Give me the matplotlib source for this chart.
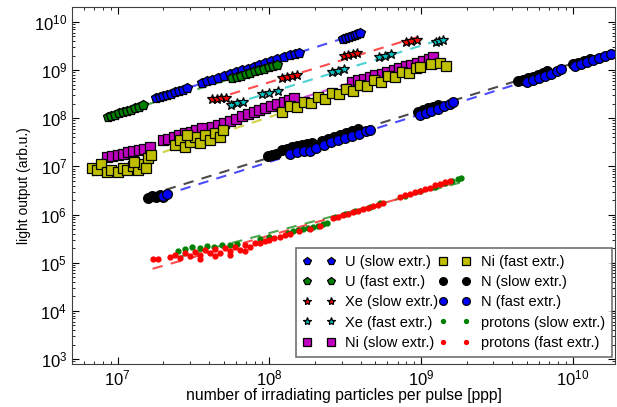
import numpy as np
import matplotlib
matplotlib.use('Agg')
import matplotlib.pyplot as plt
from matplotlib.ticker import NullFormatter

plt.rcParams['font.family'] = ['Liberation Sans', 'DejaVu Sans']
plt.rcParams['mathtext.default'] = 'regular'

# U, slow extraction
u_slow_x = [1.8e7, 1.9e7, 2.0e7, 2.1e7, 2.25e7, 2.4e7, 2.55e7, 2.7e7, 2.85e7,
            3.6e7, 3.9e7, 4.2e7, 4.6e7, 5.0e7, 5.5e7, 6.0e7, 6.6e7, 7.2e7, 7.9e7,
            8.6e7, 9.4e7, 1.03e8, 1.13e8, 1.24e8, 1.36e8, 1.48e8, 1.58e8,
            3.04e8, 3.2e8, 3.35e8, 3.5e8, 3.65e8, 3.8e8, 3.94e8]
u_slow_y = [2.6e8, 2.75e8, 2.9e8, 3.05e8, 3.25e8, 3.5e8, 3.7e8, 3.95e8, 4.2e8,
            5.4e8, 5.85e8, 6.3e8, 6.9e8, 7.5e8, 8.25e8, 9.0e8, 9.9e8, 1.08e9, 1.18e9,
            1.29e9, 1.41e9, 1.54e9, 1.69e9, 1.86e9, 2.04e9, 2.2e9, 2.3e9,
            4.4e9, 4.65e9, 4.9e9, 5.15e9, 5.4e9, 5.65e9, 5.9e9]

# U, fast extraction
u_fast_x = [8.6e6, 9.1e6, 9.6e6, 1.02e7, 1.08e7, 1.15e7, 1.22e7, 1.3e7, 1.38e7, 1.46e7,
            5.7e7, 6.1e7, 6.5e7, 7.0e7, 7.5e7, 8.0e7, 8.6e7, 9.2e7, 9.9e7, 1.05e8, 1.12e8]
u_fast_y = [1.05e8, 1.12e8, 1.18e8, 1.26e8, 1.34e8, 1.43e8, 1.52e8, 1.63e8, 1.75e8, 1.87e8,
            6.8e8, 7.25e8, 7.7e8, 8.25e8, 8.8e8, 9.4e8, 1.0e9, 1.07e9, 1.15e9, 1.21e9, 1.27e9]

# Xe
xe_slow_x = [4.2e7, 4.5e7, 4.8e7, 5.2e7, 1.22e8, 1.3e8, 1.4e8, 1.51e8,
             3.1e8, 3.3e8, 3.55e8, 3.8e8, 8.0e8, 8.6e8, 9.4e8]
xe_slow_y = [2.5e8, 2.57e8, 2.63e8, 2.7e8, 6.8e8, 7.1e8, 7.5e8, 7.9e8,
             1.96e9, 2.05e9, 2.15e9, 2.26e9, 3.8e9, 3.95e9, 4.2e9]
xe_fast_x = [5.6e7, 6.1e7, 6.7e7, 9.0e7, 1.0e8, 1.14e8, 2.6e8, 2.85e8, 3.1e8,
             5.3e8, 5.8e8, 6.3e8, 1.25e9, 1.32e9, 1.39e9]
xe_fast_y = [1.9e8, 2.05e8, 2.2e8, 3.16e8, 3.4e8, 3.65e8, 9.1e8, 9.8e8, 1.05e9,
             1.87e9, 2.0e9, 2.15e9, 3.85e9, 4.0e9, 4.15e9]

# Ni
ni_slow_x = [8.5e6, 9.2e6, 1.0e7, 1.08e7, 1.17e7, 1.27e7, 1.38e7, 1.5e7, 1.63e7,
             1.98e7, 2.15e7, 2.35e7, 2.55e7, 2.8e7, 3.05e7, 3.3e7, 3.6e7,
             4.2e7, 4.6e7, 5.0e7, 5.5e7, 6.0e7, 6.6e7, 7.2e7, 7.9e7, 8.6e7, 9.4e7,
             1.03e8, 1.13e8, 1.24e8, 1.35e8, 1.45e8,
             3.5e8, 3.85e8, 4.2e8, 4.6e8, 5.0e8, 5.5e8, 6.0e8, 6.6e8, 7.2e8, 7.9e8,
             8.6e8, 9.4e8, 1.03e9, 1.12e9, 1.19e9]
ni_slow_y = [1.55e7, 1.65e7, 1.75e7, 1.85e7, 1.95e7, 2.05e7, 2.2e7, 2.35e7, 2.5e7,
             3.5e7, 3.8e7, 4.1e7, 4.5e7, 4.9e7, 5.3e7, 5.75e7, 6.2e7,
             6.5e7, 7.2e7, 8.0e7, 8.9e7, 9.8e7, 1.09e8, 1.2e8, 1.33e8, 1.46e8, 1.6e8,
             1.76e8, 1.95e8, 2.15e8, 2.4e8, 2.6e8,
             5.6e8, 6.1e8, 6.6e8, 7.2e8, 7.8e8, 8.5e8, 9.2e8, 1.0e9, 1.09e9, 1.19e9,
             1.3e9, 1.42e9, 1.55e9, 1.7e9, 1.87e9]
ni_fast_x = [6.74e6, 7.3e6, 7.8e6, 8.5e6, 9.1e6, 1.0e7, 1.08e7, 1.16e7, 1.26e7, 1.36e7,
             1.46e7, 1.58e7, 1.65e7, 1.53e7, 1.29e7,
             2.38e7, 2.56e7, 2.77e7, 2.98e7, 3.22e7, 3.47e7, 3.75e7, 4.04e7, 4.36e7,
             4.7e7, 4.92e7, 2.85e7,
             1.22e8, 1.36e8, 1.51e8, 1.68e8, 1.87e8, 2.08e8, 2.32e8, 2.58e8, 2.86e8,
             3.18e8, 3.54e8, 3.94e8, 4.38e8, 4.87e8, 5.42e8, 6.03e8, 6.7e8, 7.45e8,
             8.28e8, 9.21e8, 9.79e8,
             1.17e9, 1.33e9, 1.45e9]
ni_fast_y = [9.5e6, 8.3e6, 1.15e7, 7.5e6, 8.3e6, 7.5e6, 9.1e6, 8.3e6, 1.0e7, 8.3e6,
             1.15e7, 1.47e7, 1.7e7, 9.5e6, 1.21e7,
             2.74e7, 3.48e7, 2.49e7, 3.16e7, 4.02e7, 3.01e7, 4.43e7, 3.48e7, 4.87e7,
             4.02e7, 5.62e7, 4.43e7,
             1.33e8, 1.78e8, 1.69e8, 2.15e8, 2.05e8, 2.74e8, 2.49e8, 3.32e8, 3.16e8,
             4.02e8, 3.65e8, 4.87e8, 4.64e8, 6.19e8, 5.62e8, 7.5e8, 7.15e8, 9.09e8,
             8.66e8, 1.1e9, 1.15e9,
             1.33e9, 1.4e9, 1.21e9]

# N
n_slow_x = [1.58e7, 1.68e7, 1.78e7, 1.89e7, 1.98e7,
            9.75e7, 1.04e8, 1.1e8,
            1.21e8, 1.3e8, 1.4e8, 1.51e8, 1.63e8, 1.76e8, 1.9e8,
            2.21e8, 2.42e8, 2.65e8, 2.91e8, 3.18e8, 3.49e8, 3.82e8,
            9.5e8, 1.03e9, 1.11e9, 1.19e9, 1.29e9,
            4.33e9, 4.68e9, 5.05e9, 5.45e9, 5.88e9, 6.34e9, 6.73e9,
            9.97e9, 1.08e10, 1.18e10, 1.29e10]
n_slow_y = [2.26e6, 2.49e6, 2.37e6, 2.61e6, 2.37e6,
            1.62e7, 1.7e7, 1.78e7,
            2.15e7, 2.26e7, 2.49e7, 2.61e7, 2.74e7, 2.87e7, 3.01e7,
            3.32e7, 3.65e7, 4.02e7, 4.43e7, 4.87e7, 5.36e7, 5.9e7,
            1.33e8, 1.47e8, 1.62e8, 1.69e8, 1.87e8,
            5.9e8, 6.19e8, 6.81e8, 7.15e8, 7.87e8, 8.66e8, 9.53e8,
            1.33e9, 1.4e9, 1.54e9, 1.7e9]
n_fast_x = [1.98e7, 2.1e7,
            1.36e8, 1.51e8, 1.68e8, 1.84e8, 2.02e8,
            2.28e8, 2.54e8, 2.82e8, 3.13e8, 3.49e8, 3.88e8, 4.32e8, 4.58e8,
            9.8e8, 1.07e9, 1.17e9, 1.29e9, 1.41e9, 1.55e9, 1.62e9,
            4.97e9, 5.45e9, 5.96e9, 6.53e9, 7.15e9, 7.83e9, 8.32e9,
            1.03e10, 1.13e10, 1.24e10, 1.35e10, 1.48e10, 1.62e10, 1.78e10]
n_fast_y = [2.49e6, 2.74e6,
            1.78e7, 1.96e7, 2.05e7, 2.05e7, 2.37e7,
            2.74e7, 3.16e7, 3.48e7, 3.83e7, 4.22e7, 4.64e7, 5.36e7, 5.62e7,
            1.15e8, 1.27e8, 1.4e8, 1.54e8, 1.78e8, 1.96e8, 2.15e8,
            5.62e8, 6.19e8, 6.81e8, 7.5e8, 8.25e8, 9.53e8, 1.05e9,
            1.21e9, 1.33e9, 1.47e9, 1.62e9, 1.78e9, 1.96e9, 2.15e9]

# protons
p_slow_x = [2.49e7, 2.77e7, 3.08e7, 3.47e7, 3.86e7, 4.29e7, 4.85e7, 5.47e7, 6.08e7,
            8.63e7, 1.0e8, 1.32e8, 1.43e8, 1.54e8, 1.66e8, 1.79e8, 1.93e8, 2.08e8,
            2.25e8, 2.39e8, 2.69e8, 3.13e8, 3.65e8, 4.58e8, 5.33e8,
            7.8e8, 9.8e8, 1.23e9, 1.43e9, 1.59e9, 1.74e9, 1.82e9]
p_slow_y = [1.78e5, 1.96e5, 2.15e5, 2.05e5, 2.26e5, 2.15e5, 2.37e5, 2.37e5, 2.49e5,
            3.16e5, 3.48e5, 4.22e5, 4.64e5, 4.87e5, 5.11e5, 5.36e5, 5.62e5, 5.9e5,
            6.49e5, 6.81e5, 9.09e5, 1.05e6, 1.21e6, 1.47e6, 1.7e6,
            2.49e6, 3.16e6, 3.83e6, 4.43e6, 4.87e6, 5.36e6, 5.62e6]
p_fast_x = [1.7e7, 1.84e7, 2.2e7, 2.38e7, 2.56e7, 2.77e7, 2.98e7, 3.22e7, 3.47e7, 3.47e7,
            3.75e7, 4.04e7, 4.36e7, 4.36e7, 4.7e7, 5.07e7, 5.47e7, 5.47e7, 5.9e7, 6.37e7,
            6.87e7, 6.87e7, 7.41e7, 8.0e7, 8.63e7, 9.31e7, 1.0e8, 1.08e8, 1.17e8, 1.26e8,
            1.36e8, 1.58e8, 1.84e8, 2.15e8,
            2.61e8, 2.82e8, 3.04e8, 3.28e8, 3.54e8, 3.82e8, 4.12e8, 4.45e8, 4.8e8,
            5.17e8, 5.58e8,
            7.23e8, 7.8e8, 8.41e8, 9.08e8, 9.8e8, 1.06e9, 1.14e9, 1.23e9, 1.33e9,
            1.43e9, 1.55e9]
p_fast_y = [1.21e5, 1.21e5, 1.33e5, 1.47e5, 1.27e5, 1.62e5, 1.4e5, 1.7e5, 1.47e5, 1.21e5,
            1.87e5, 1.62e5, 1.96e5, 1.4e5, 1.62e5, 2.05e5, 1.78e5, 1.47e5, 2.15e5, 1.87e5,
            2.37e5, 1.78e5, 2.15e5, 2.61e5, 2.61e5, 2.87e5, 3.01e5, 3.32e5, 3.48e5, 3.83e5,
            4.02e5, 4.64e5, 5.11e5, 5.9e5,
            8.66e5, 9.09e5, 1.0e6, 1.05e6, 1.15e6, 1.21e6, 1.33e6, 1.4e6, 1.54e6,
            1.62e6, 1.7e6,
            2.37e6, 2.61e6, 2.74e6, 3.01e6, 3.16e6, 3.48e6, 3.65e6, 4.02e6, 4.22e6,
            4.64e6, 4.87e6]

x_ticks = [1e7, 1e8, 1e9, 1e10]
y_ticks = [1e3, 1e4, 1e5, 1e6, 1e7, 1e8, 1e9, 1e10]

series = [
    (u_slow_x, u_slow_y, 'b', 'p', 7, 'U (slow extr.)'),
    (u_fast_x, u_fast_y, 'g', 'p', 7, 'U (fast extr.)'),
    (xe_slow_x, xe_slow_y, 'r', '*', 7.5, 'Xe (slow extr.)'),
    (xe_fast_x, xe_fast_y, 'c', '*', 7.5, 'Xe (fast extr.)'),
    (ni_slow_x, ni_slow_y, 'm', 's', 6.5, 'Ni (slow extr.)'),
    (ni_fast_x, ni_fast_y, 'y', 's', 6.5, 'Ni (fast extr.)'),
    (n_slow_x, n_slow_y, 'k', 'o', 7, 'N (slow extr.)'),
    (n_fast_x, n_fast_y, 'b', 'o', 7, 'N (fast extr.)'),
    (p_slow_x, p_slow_y, 'g', '.', 7, 'protons (slow extr.)'),
    (p_fast_x, p_fast_y, 'r', '.', 7, 'protons (fast extr.)'),
]

fig = plt.figure(figsize=(6.17, 4.07), dpi=100)
ax = fig.add_axes([0.1167, 0.1057, 0.8801, 0.8759])

for x, y, col, mk, ms, lab in series:
    x = np.array(x)
    y = np.array(y)
    if mk == '.':
        ax.plot(x, y, ls='none', marker=mk, color=col, mec=col, ms=ms, label=lab)
    else:
        ax.plot(x, y, ls='none', marker=mk, color=col, mec='k', mew=0.9, ms=ms, label=lab)
    # power law fit
    k, d = np.polyfit(np.log10(x), np.log10(y), 1)
    xs = np.logspace(np.log10(x.min()), np.log10(x.max()), 50)
    ax.plot(xs, 10 ** (k * np.log10(xs) + d), ls='--', color=col, lw=1.5,
            alpha=0.7, dashes=(5, 4), zorder=1)

ax.set_xscale('log')
ax.set_yscale('log')
ax.set_xticks(x_ticks)
ax.set_yticks(y_ticks)
ax.xaxis.set_minor_formatter(NullFormatter())
ax.yaxis.set_minor_formatter(NullFormatter())
ax.set_xlim(5e6, 1.9e10)
ax.set_ylim(7.9e2, 2e10)

ax.tick_params(which='both', direction='in', top=True, right=True, labelsize=12)
ax.tick_params(which='major', length=5)
ax.tick_params(which='minor', length=2.5)
ax.tick_params(axis='x', pad=3)
for sp in ax.spines.values():
    sp.set_color('0.25')

ax.set_xlabel('number of irradiating particles per pulse [ppp]', fontsize=11.3, labelpad=0)
ax.set_ylabel('light output (arb.u.)', fontsize=10, labelpad=2)

axw = 0.8801 * 617
axh = 0.8759 * 407
leg = ax.legend(loc='lower right', bbox_to_anchor=(1 - 3 / axw, 7 / axh),
                borderaxespad=0, ncol=2, numpoints=2, fontsize=10.5,
                markerscale=0.8, handlelength=2.2, handletextpad=0.7,
                columnspacing=0.0, labelspacing=0.42, borderpad=0.5,
                fancybox=False)
leg.get_frame().set_edgecolor('0.3')
leg.get_frame().set_linewidth(1.2)

plt.savefig('out.png', dpi=100)
